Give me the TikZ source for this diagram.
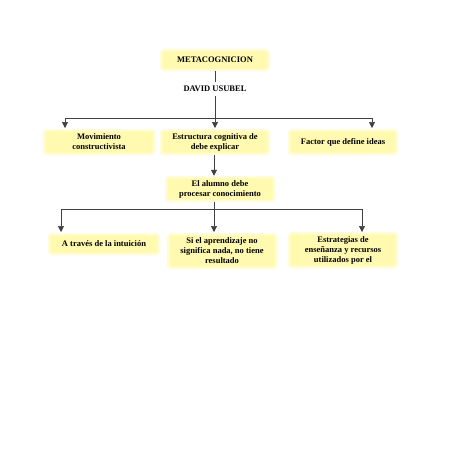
\documentclass[tikz,border=0pt]{standalone}
\usepackage{fontspec}
\setmainfont{Liberation Serif}
\usepackage{tikz}
\usetikzlibrary{arrows.meta,positioning}

\definecolor{boxfill}{RGB}{255,250,175}
\definecolor{boxglow}{RGB}{255,252,215}

\tikzset{
  concept/.style={rectangle, rounded corners=3pt, fill=boxfill, draw=boxglow,
    line width=2.5pt, align=center, font=\bfseries\fontsize{8.5}{10}\selectfont,
    inner xsep=1pt, inner ysep=3pt},
  link/.style={draw=black!75, line width=0.6pt},
  arrow/.style={link, -{Triangle[width=6pt,length=6pt]}}
}

\begin{document}
\begin{tikzpicture}[x=1pt,y=-1pt]
      \useasboundingbox (0,0) rectangle (452,452);

      \node[concept, minimum width=108, minimum height=20] (meta) at (215,60) {METACOGNICION};
      \node[font=\bfseries\fontsize{8.5}{10}\selectfont, inner sep=4pt] (david) at (215,89) {DAVID USUBEL};

      \node[concept, minimum width=110, minimum height=24] (mov)  at (99,142)  {Movimiento\\constructivista};
      \node[concept, minimum width=108, minimum height=24] (estr) at (215,142) {Estructura cognitiva de\\debe explicar};
      \node[concept, minimum width=108, minimum height=24] (fact) at (343,142) {Factor que define ideas};

      \node[concept, minimum width=108, minimum height=24] (alum) at (220,189) {El alumno debe\\procesar conocimiento};

      \node[concept, minimum width=110, minimum height=20] (intu) at (104,244) {A trav\'es de la intuici\'on};
      \node[concept, minimum width=108, minimum height=34] (sign) at (222,251) {Si el aprendizaje no\\significa nada, no tiene\\resultado};
      \node[concept, minimum width=108, minimum height=34] (estg) at (343,250) {Estrategias de\\ense\~nanza y recursos\\utilizados por el};

      % junctions
      \coordinate (split1) at (215,118);
      \coordinate (t1) at (65,128);
      \coordinate (t2) at (215,128);
      \coordinate (t3) at (372,128);
      \coordinate (split2) at (214,209);
      \coordinate (u1) at (61,232);
      \coordinate (u2) at (214,232);
      \coordinate (u3) at (362,232);

      \draw[link] (meta) -- (david);
      \draw[link] (david) -- (split1);
      \draw[arrow] (split1) -| (t1);
      \draw[arrow] (split1) -- (t2);
      \draw[arrow] (split1) -| (t3);

      \draw[arrow] (estr.south -| split2) -- (alum.north -| split2);

      \draw[link] (alum.south -| split2) -- (split2);
      \draw[arrow] (split2) -| (u1);
      \draw[arrow] (split2) -- (u2);
      \draw[arrow] (split2) -| (u3);

\end{tikzpicture}
\end{document}
